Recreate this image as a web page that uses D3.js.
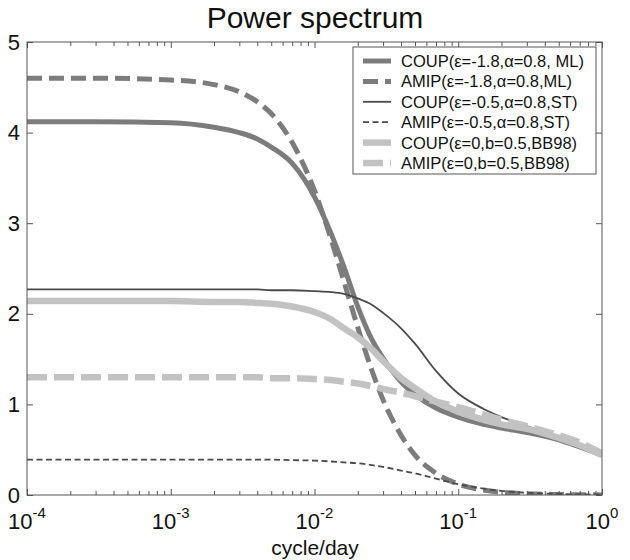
<!DOCTYPE html>
<html><head><meta charset="utf-8">
<script src="https://cdn.jsdelivr.net/npm/d3@7"></script>
<style>body{margin:0;background:#fff}svg{display:block;font-family:"Liberation Sans",Arial,sans-serif}</style>
</head><body><svg id="c" width="630" height="560"></svg>
<script>
const freq = [1e-4,3e-4,1e-3,2e-3,3e-3,4e-3,5e-3,7e-3,1e-2,1.3e-2,1.6e-2,2e-2,2.5e-2,3e-2,4e-2,5e-2,7e-2,0.1,0.15,0.2,0.3,0.5,0.7,1.0];
const coupML  = [4.12,4.12,4.11,4.06,4.00,3.93,3.84,3.66,3.29,2.89,2.52,2.08,1.72,1.51,1.25,1.11,0.96,0.86,0.78,0.74,0.69,0.61,0.53,0.44];
const amipML  = [4.60,4.60,4.58,4.53,4.45,4.34,4.21,3.89,3.36,2.83,2.36,1.85,1.38,1.05,0.66,0.44,0.24,0.12,0.055,0.03,0.014,0.005,0.003,0.001];
const coupST  = [2.27,2.27,2.27,2.27,2.27,2.27,2.26,2.26,2.25,2.24,2.22,2.17,2.10,2.01,1.84,1.67,1.37,1.12,0.95,0.86,0.76,0.64,0.56,0.46];
const amipST  = [0.39,0.39,0.39,0.39,0.39,0.39,0.39,0.385,0.38,0.37,0.36,0.35,0.33,0.31,0.27,0.24,0.18,0.12,0.07,0.045,0.025,0.012,0.007,0.004];
const coupBB  = [2.14,2.14,2.14,2.13,2.13,2.12,2.11,2.08,2.02,1.94,1.84,1.74,1.61,1.48,1.29,1.18,1.03,0.92,0.83,0.78,0.73,0.63,0.55,0.44];
const amipBB  = [1.30,1.30,1.30,1.30,1.30,1.30,1.29,1.29,1.28,1.27,1.25,1.23,1.20,1.17,1.13,1.09,1.03,0.97,0.89,0.83,0.76,0.66,0.58,0.46];
const seriesNames = ["COUP(ε=-1.8,α=0.8, ML)","AMIP(ε=-1.8,α=0.8,ML)","COUP(ε=-0.5,α=0.8,ST)","AMIP(ε=-0.5,α=0.8,ST)","COUP(ε=0,b=0.5,BB98)","AMIP(ε=0,b=0.5,BB98)"];
const seriesValues = [coupML, amipML, coupST, amipST, coupBB, amipBB];
const yTicks = [0,1,2,3,4,5];
const xDecades = [-4,-3,-2,-1,0];
const titleText = "Power spectrum";
const xLabelText = "cycle/day";

const styles = [
  {color:"#7c7c7c", width:5, dash:null},
  {color:"#7c7c7c", width:5, dash:"15,7"},
  {color:"#4a4a4a", width:1.8, dash:null},
  {color:"#4a4a4a", width:1.8, dash:"6,3.5"},
  {color:"#c2c2c2", width:6.5, dash:null},
  {color:"#c2c2c2", width:6.5, dash:"20,7"}
];

const svg = d3.select("#c");
const L=27, R=602, T=42, B=495;
const x = d3.scaleLog().domain([1e-4,1]).range([L,R]);
const y = d3.scaleLinear().domain([0,5]).range([B,T]);

// title
svg.append("text").attr("x",315).attr("y",28).attr("text-anchor","middle")
  .attr("font-size",30).attr("fill","#111").text(titleText);

svg.append("clipPath").attr("id","clp").append("rect")
  .attr("x",L).attr("y",T).attr("width",R-L).attr("height",B-T);

// lines
const line = d3.line().x((d,i)=>x(freq[i])).y(d=>y(d)).curve(d3.curveMonotoneX);
const lg = svg.append("g").attr("clip-path","url(#clp)");
seriesValues.forEach((vals,k)=>{
  const s = styles[k];
  const p = lg.append("path").datum(vals).attr("d",line).attr("fill","none")
    .attr("stroke",s.color).attr("stroke-width",s.width);
  if(s.dash) p.attr("stroke-dasharray",s.dash);
});

// frame
const axc = "#555";
svg.append("rect").attr("x",L).attr("y",T).attr("width",R-L).attr("height",B-T)
  .attr("fill","none").attr("stroke",axc).attr("stroke-width",1);

// x axes (bottom/top) with inward ticks
const minor = [];
xDecades.slice(0,-1).forEach(e=>{ for(let m=2;m<=9;m++) minor.push(m*Math.pow(10,e)); });
const majors = xDecades.map(e=>Math.pow(10,e));
function xAxis(axis, ypos){
  const gg = svg.append("g").attr("transform",`translate(0,${ypos})`);
  gg.call(axis);
  gg.select(".domain").remove();
  gg.selectAll("line").attr("stroke",axc);
  gg.selectAll("text").remove();
}
xAxis(d3.axisBottom(x).tickValues(majors).tickSize(-6), B);
xAxis(d3.axisBottom(x).tickValues(minor).tickSize(-4), B);
xAxis(d3.axisTop(x).tickValues(majors).tickSize(-6), T);
xAxis(d3.axisTop(x).tickValues(minor).tickSize(-4), T);

// x tick labels with superscripts
const xl = svg.append("g");
xDecades.forEach(e=>{
  const t = xl.append("text").attr("x",x(Math.pow(10,e))).attr("y",529)
    .attr("text-anchor","middle").attr("font-size",22).attr("fill","#111");
  t.append("tspan").text("10");
  t.append("tspan").attr("dy",-11).attr("font-size",15).text(String(e));
});
svg.append("text").attr("x",315).attr("y",555).attr("text-anchor","middle")
  .attr("font-size",21).attr("fill","#111").text(xLabelText);

// y axes
function yAxis(axis, xpos, labels){
  const gg = svg.append("g").attr("transform",`translate(${xpos},0)`);
  gg.call(axis);
  gg.select(".domain").remove();
  gg.selectAll("line").attr("stroke",axc);
  if(!labels) gg.selectAll("text").remove();
  else gg.selectAll("text").attr("font-size",22).attr("fill","#111")
        .attr("font-family","Liberation Sans, Arial, sans-serif").attr("x",-7);
}
yAxis(d3.axisLeft(y).tickValues(yTicks).tickSize(-6).tickFormat(d3.format("d")), L, true);
yAxis(d3.axisRight(y).tickValues(yTicks).tickSize(-6), R, false);

// legend
const lx=353, ly=47, lw=243, lh=127;
const leg = svg.append("g");
leg.append("rect").attr("x",lx).attr("y",ly).attr("width",lw).attr("height",lh)
  .attr("fill","#fff").attr("stroke",axc).attr("stroke-width",1);
seriesNames.forEach((n,k)=>{
  const s = styles[k];
  const cy = 61 + k*20.4;
  const ln = leg.append("line").attr("x1",363).attr("x2",391).attr("y1",cy).attr("y2",cy)
    .attr("stroke",s.color).attr("stroke-width",s.width);
  if(s.dash) ln.attr("stroke-dasharray",s.dash);
  leg.append("text").attr("x",401).attr("y",cy).attr("dy","0.36em")
    .attr("font-size",16.5).attr("fill","#111").text(n);
});
</script></body></html>
